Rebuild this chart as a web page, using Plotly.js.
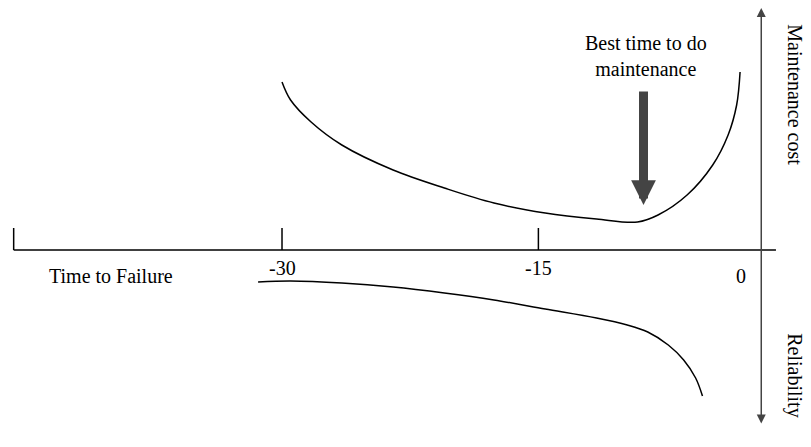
<!DOCTYPE html>
<html>
<head>
<script src="https://cdn.plot.ly/plotly-3.0.1.min.js"></script>
<style>body{margin:0;background:#fff}</style>
</head>
<body>
<div id="chart" style="width:811px;height:447px"></div>
<script>
// time to failure (units) and maintenance cost (arbitrary)
var costTime = [-30, -29.5, -28.3, -26.5, -23.5, -20.5, -17.6, -14.6, -11.6, -9.2, -8.0, -6.3, -4.8, -3.9, -3.4, -3.2];
var costVal  = [168, 150, 128, 105, 80, 62, 47, 37, 31, 28, 35, 55, 85, 115, 145, 178];
// reliability drawn below the axis
var relTime = [-31.4, -29.5, -26.5, -23.5, -20.5, -17.6, -14.6, -11.6, -9.8, -8.6, -7.4, -6.5, -5.8, -5.4];
var relVal  = [-32, -31, -33, -37, -43, -50, -59, -68, -75, -82, -95, -110, -128, -146];
var tickVals = [-30, -15];
var tickText = ['-30', '-15'];

var font = {family: 'Liberation Serif', size: 20, color: '#000'};

var data = [
  {x: costTime, y: costVal, mode: 'lines', line: {color: '#000', width: 1.5, shape: 'spline'}, hoverinfo: 'none'},
  {x: relTime, y: relVal, mode: 'lines', line: {color: '#000', width: 1.5, shape: 'spline'}, hoverinfo: 'none'}
];

var shapes = [
  {type: 'line', x0: -45.7, x1: -1.1, y0: 0, y1: 0, line: {color: '#000', width: 1.5}},
  {type: 'line', x0: -45.7, x1: -45.7, y0: 0, y1: 22, line: {color: '#000', width: 1.5}}
];
tickVals.forEach(function(t){
  shapes.push({type: 'line', x0: t, x1: t, y0: 0, y1: 22, line: {color: '#000', width: 1.5}});
});

var annotations = [
  {x: -1.96, y: 242, ax: -1.96, ay: -175, axref: 'x', ayref: 'y', showarrow: true, arrowhead: 2, arrowside: 'end+start', arrowwidth: 1.5, arrowsize: 1.2, text: ''},
  {x: -8.85, y: 45, ax: -8.85, ay: 160, axref: 'x', ayref: 'y', showarrow: true, arrowhead: 2, arrowwidth: 9, arrowsize: 0.55, text: ''},
  {x: -8.7, y: 194, text: 'Best time to do<br>maintenance', showarrow: false, font: font, yanchor: 'middle'},
  {x: -40, y: -26, text: 'Time to Failure', showarrow: false, font: font},
  {x: -3.15, y: -26, text: '0', showarrow: false, font: font},
  {x: 0.0, y: 155, text: 'Maintenance cost', showarrow: false, font: font, textangle: 90},
  {x: 0.0, y: -125, text: 'Reliability', showarrow: false, font: font, textangle: 90}
];
tickVals.forEach(function(t, i){
  annotations.push({x: t, y: -18, text: tickText[i], showarrow: false, font: font});
});

var layout = {
  width: 811, height: 447,
  margin: {l: 0, r: 0, t: 0, b: 0},
  paper_bgcolor: '#fff', plot_bgcolor: '#fff',
  showlegend: false,
  xaxis: {range: [-46.5, 0.95], visible: false, fixedrange: true},
  yaxis: {range: [-197, 250], visible: false, fixedrange: true},
  shapes: shapes,
  annotations: annotations
};

Plotly.newPlot('chart', data, layout, {displayModeBar: false, staticPlot: true});
</script>
</body>
</html>
